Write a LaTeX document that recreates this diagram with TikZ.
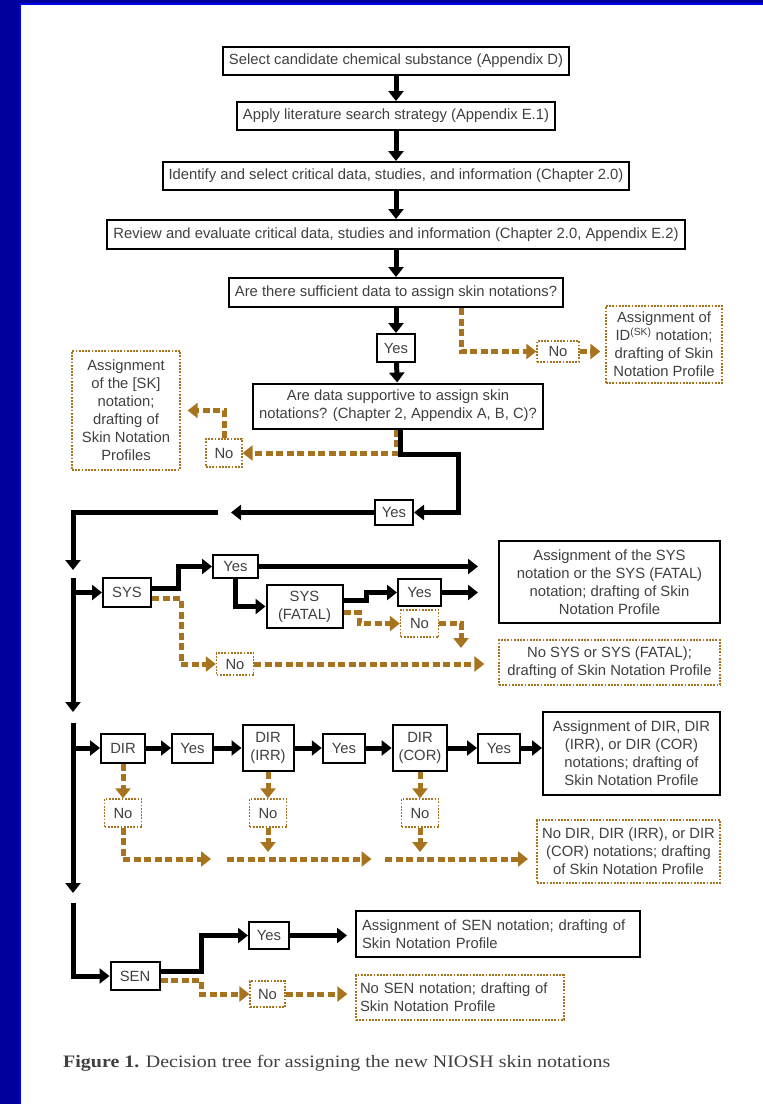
\documentclass[tikz,border=0pt]{standalone}
\usepackage{fontspec}
\setmainfont{Liberation Sans}
\newfontfamily\capfont[FakeStretch=1.14]{Liberation Serif}
\usetikzlibrary{arrows.meta,positioning}
\definecolor{frame}{HTML}{00009C}
\definecolor{framelt}{HTML}{0000F0}
\definecolor{nocol}{HTML}{A8731F}
\definecolor{txt}{HTML}{404040}

\begin{document}
\begin{tikzpicture}[x=1pt,y=-1pt,font=\fontsize{14.8}{18}\selectfont,
box/.style={draw,line width=2pt,fill=white,text=txt,align=center,inner xsep=6pt,inner ysep=4pt,minimum height=28pt},
nobox/.style={draw=nocol,line width=1.3pt,dash pattern=on 1.8pt off 1.4pt,fill=white,text=txt,align=center,inner xsep=4pt,inner ysep=3pt},
f/.style={-{Triangle[length=10pt,width=15pt]},line width=5pt},
e/.style={-{Triangle[length=10pt,width=15pt]},line width=5pt,nocol,dash pattern=on 7pt off 3.5pt}]
\useasboundingbox (0,0) rectangle (763,1104);
\fill[white] (0,0) rectangle (763,1104);
\fill[frame] (0,0) rectangle (763,3); \fill[framelt] (0,3) rectangle (763,5);
\fill[frame] (0,0) rectangle (19,1104); \fill[framelt] (19,3) rectangle (21,1104);
% main column
\node[box] (sel) at (396,61) {Select candidate chemical substance (Appendix D)};
\node[box] (lit) at (396,116) {Apply literature search strategy (Appendix E.1)};
\node[box] (crit) at (396,176) {Identify and select critical data, studies, and information (Chapter 2.0)};
\node[box,minimum height=29pt] (rev) at (396,234.5) {Review and evaluate critical data, studies and information (Chapter 2.0, Appendix E.2)};
\node[box,minimum height=29pt] (suff) at (396,292.5) {Are there sufficient data to assign skin notations?};
\node[box,minimum width=38pt] (yA) at (396,348) {Yes};
\node[nobox,minimum width=42pt,minimum height=21pt] (nA) at (558,351.5) {No};
\node[nobox,minimum width=116pt,minimum height=77pt] (idn) at (664,344.5) {Assignment of\\ID\textsuperscript{(SK)} notation;\\drafting of Skin\\Notation Profile};
\node[box,minimum height=45pt] (supp) at (398,406) {Are data supportive to assign skin\\notations? (Chapter 2, Appendix A, B, C)?};
\node[nobox,minimum width=108pt,minimum height=119pt] (sk) at (126,410.5) {Assignment\\of the [SK]\\notation;\\drafting of\\Skin Notation\\Profiles};
\node[nobox,minimum width=36pt,minimum height=28pt] (nSK) at (224,453) {No};
\node[box,minimum width=38pt,minimum height=25pt] (yB) at (394,512.5) {Yes};
\coordinate (bend) at (458.6,454); \coordinate (gapR) at (231,512.5); \coordinate (gapL) at (217.5,512.5);
\coordinate (t1) at (73,570); \coordinate (t2) at (73,578); \coordinate (t3) at (73,712);
\coordinate (t4) at (73,723); \coordinate (t5) at (73,893); \coordinate (t6) at (73,903);
% SYS
\node[box,minimum width=48pt,minimum height=29pt] (sys) at (127,592.5) {SYS};
\node[box,minimum width=45pt,minimum height=23pt] (ys1) at (235.5,566.5) {Yes};
\node[box,minimum width=76pt,minimum height=43pt] (sysf) at (304.5,606.5) {SYS\\(FATAL)};
\node[box,minimum width=43pt,minimum height=27pt] (ys2) at (419.5,592.5) {Yes};
\node[nobox,minimum width=38pt,minimum height=27pt] (ns2) at (419.5,623.5) {No};
\node[nobox,minimum width=37pt,minimum height=22pt] (ns1) at (235,664) {No};
\node[box,minimum width=221pt,minimum height=82pt] (asys) at (609.5,582) {Assignment of the SYS\\notation or the SYS (FATAL)\\notation; drafting of Skin\\Notation Profile};
\node[nobox,minimum width=221pt,minimum height=45pt] (nsys) at (609.5,662.5) {No SYS or SYS (FATAL);\\drafting of Skin Notation Profile};
\coordinate (m1) at (461,648);
% DIR
\node[box,minimum width=44pt,minimum height=29pt] (dir) at (123,748) {DIR};
\node[box,minimum width=41pt,minimum height=29pt] (yd1) at (192.5,748) {Yes};
\node[box,minimum width=51pt,minimum height=46pt] (dirr) at (268,748) {DIR\\(IRR)};
\node[box,minimum width=42.5pt,minimum height=29pt] (yd2) at (344,748) {Yes};
\node[box,minimum width=52pt,minimum height=46pt] (dcor) at (420,748) {DIR\\(COR)};
\node[box,minimum width=42pt,minimum height=29pt] (yd3) at (499,748) {Yes};
\node[box,minimum width=177pt,minimum height=83pt] (adir) at (631.5,753.5) {Assignment of DIR, DIR\\(IRR), or DIR (COR)\\notations; drafting of\\Skin Notation Profile};
\node[nobox,minimum width=37pt,minimum height=28pt] (nd1) at (123,813) {No};
\node[nobox,minimum width=37pt,minimum height=28pt] (nd2) at (268,813) {No};
\node[nobox,minimum width=37pt,minimum height=28pt] (nd3) at (420,813) {No};
\node[nobox,minimum width=183pt,minimum height=63pt] (ndir) at (628.5,851.5) {No DIR, DIR (IRR), or DIR\\(COR) notations; drafting\\of Skin Notation Profile};
\coordinate (s1) at (211,859); \coordinate (s2a) at (226.5,859); \coordinate (s2b) at (371.5,859);
\coordinate (s3a) at (385,859); \coordinate (s3b) at (528,859);
% SEN
\node[box,minimum width=49pt] (sen) at (135,976) {SEN};
\node[box,minimum width=40pt,minimum height=27pt] (yn) at (269,935.5) {Yes};
\node[box,text width=272pt,align=left,minimum height=46pt] (asen) at (498,934) {Assignment of SEN notation; drafting of\\Skin Notation Profile};
\node[nobox,minimum width=35pt,minimum height=26pt] (nn) at (267.5,994) {No};
\node[nobox,text width=200pt,align=left,minimum height=45pt] (nsen) at (460,997.5) {No SEN notation; drafting of\\Skin Notation Profile};
\node[anchor=west,inner sep=0pt,text=txt,font=\capfont\fontsize{17.5}{20}\selectfont] (cap) at (63,1063) {\textbf{Figure 1.} Decision tree for assigning the new NIOSH skin notations};
% connectors
\draw[f] (sel)--(lit); \draw[f] (lit)--(crit); \draw[f] (crit)--(rev); \draw[f] (rev)--(suff);
\draw[f] (suff)--(yA); \draw[f] (yA)--(supp);
\draw[e] ([xshift=65pt]suff.south) |- (nA); \draw[e,shorten >=5pt] (nA.east) -- (nA.east -| idn.west);
\draw[e] ([xshift=-2pt]supp.south) |- (nSK); \draw[e] (nSK.north) |- ([xshift=7pt]sk.east);
\draw[f] ([xshift=2.5pt]supp.south) |- (bend) |- (yB);
\draw[f] (yB) -- (gapR); \draw[f] (gapL) -| (t1);
\draw[f] (t2)--(t3); \draw[f] (t2 |- sys)--(sys);
\draw[f] (t4)--(t5); \draw[f] (t4 |- dir)--(dir);
\draw[f] (t6) |- (sen);
\draw[f] ([yshift=4pt]sys.east) -- ++(26,0) |- (ys1); \draw[f,shorten >=20pt] (ys1) -- (ys1 -| asys.west);
\draw[f] (ys1.south) |- (sysf); \draw[f] ([yshift=6pt]sysf.east) -- ++(22.5,0) |- (ys2);
\draw[f,shorten >=20pt] (ys2) -- (ys2 -| asys.west);
\draw[e] ([yshift=-6pt]sysf.east) -- ++(15.5,0) |- (ns2); \draw[e] (ns2.east) -| (m1);
\draw[e] ([yshift=-6pt]sys.east) -- ++(29,0) |- (ns1); \draw[e,shorten >=14pt] (ns1) -- (ns1 -| nsys.west);
\draw[f] (dir)--(yd1); \draw[f] (yd1)--(dirr); \draw[f] (dirr)--(yd2); \draw[f] (yd2)--(dcor); \draw[f] (dcor)--(yd3);
\draw[f] (yd3) -- (yd3 -| adir.west);
\draw[e] (dir)--(nd1); \draw[e] (dirr)--(nd2); \draw[e] (dcor)--(nd3);
\draw[e] (nd1) |- (s1); \draw[e] (s2a)--(s2b); \draw[e] (s3a)--(s3b);
\draw[e,shorten >=7pt] (nd2) -- (nd2 |- s2a); \draw[e,shorten >=7pt] (nd3) -- (nd3 |- s3a);
\draw[f] ([yshift=5pt]sen.east) -- ++(40.5,0) |- (yn); \draw[f,shorten >=8pt] (yn) -- (yn -| asen.west);
\draw[e] ([yshift=-4pt]sen.east) -- ++(40.5,0) |- (nn); \draw[e,shorten >=8pt] (nn) -- (nn -| nsen.west);
\end{tikzpicture}
\end{document}
